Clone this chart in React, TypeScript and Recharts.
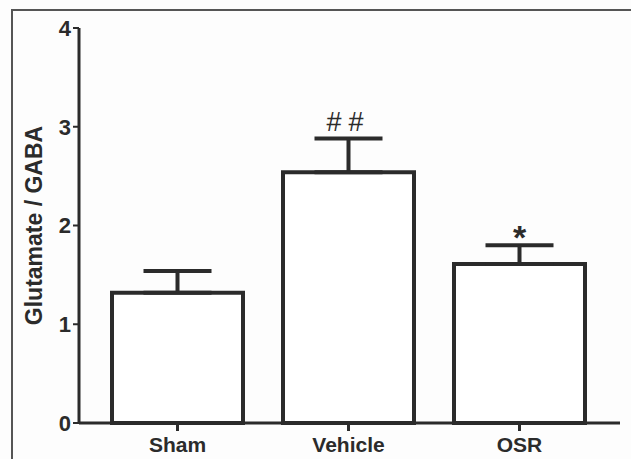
import { BarChart, Bar, XAxis, YAxis, ErrorBar, ReferenceDot } from "recharts"

const groups = ["Sham", "Vehicle", "OSR"]
const means = [1.32, 2.54, 1.61]
const sems = [0.22, 0.34, 0.19]
const marks = ["", "##", "*"]
const yTicks = [0, 1, 2, 3, 4]

const ink = "#2b2b2b"
const font = "'Liberation Sans', Arial, sans-serif"

const data = groups.map((g, i) => ({ group: g, mean: means[i], err: [0, sems[i]] }))

// y-axis title, centred on the axis band
const yLabel = (props: any) => {
  const vb = props.viewBox || { x: 10, y: 28, width: 69, height: 395 }
  const cx = vb.x + 24
  const cy = vb.y + vb.height / 2
  return (
    <text
      x={cx}
      y={cy}
      transform={`rotate(-90 ${cx} ${cy})`}
      textAnchor="middle"
      dominantBaseline="central"
      fill={ink}
      fontSize={23}
      fontWeight={700}
      fontFamily={font}
    >
      Glutamate / GABA
    </text>
  )
}

export default function App() {
  return (
    <div style={{ position: "absolute", left: 0, top: 0, width: 631, height: 459, background: "#fdfdfd", overflow: "hidden" }}>
      <div style={{ position: "absolute", left: 11, top: 9, width: 640, height: 470, borderTop: "2px solid #555", borderLeft: "2px solid #555" }} />
      <BarChart
        width={631}
        height={459}
        data={data}
        margin={{ top: 28, right: 11, bottom: 0, left: 10 }}
        barSize={131}
        style={{ position: "absolute", left: 0, top: 0 }}
      >
        <XAxis
          dataKey="group"
          padding={{ left: 13, right: 15 }}
          axisLine={{ stroke: ink, strokeWidth: 3 }}
          tickLine={{ stroke: ink, strokeWidth: 3 }}
          tickSize={8}
          tickMargin={6}
          height={36}
          tick={{ fill: ink, fontSize: 21, fontWeight: 700, fontFamily: font }}
        />
        <YAxis
          domain={[0, 4]}
          ticks={yTicks}
          width={69}
          axisLine={{ stroke: ink, strokeWidth: 3 }}
          tickLine={{ stroke: ink, strokeWidth: 2 }}
          tickSize={6}
          tickMargin={2}
          tick={{ fill: ink, fontSize: 22, fontWeight: 700, fontFamily: font }}
          label={yLabel}
        />
        <Bar dataKey="mean" fill="#fff" stroke={ink} strokeWidth={4} isAnimationActive={false}>
          <ErrorBar dataKey="err" width={34} stroke={ink} strokeWidth={4} isAnimationActive={false} />
        </Bar>
        {groups.map((g, i) =>
          marks[i] ? (
            <ReferenceDot
              key={g}
              x={g}
              y={means[i] + sems[i]}
              r={0}
              stroke="none"
              label={{
                value: marks[i],
                position: "top",
                offset: marks[i] === "*" ? -4 : 8,
                style: {
                  fill: ink,
                  fontSize: marks[i] === "*" ? 34 : 27,
                  fontWeight: marks[i] === "*" ? 700 : 400,
                  letterSpacing: marks[i] === "*" ? 0 : 7,
                  fontFamily: font,
                },
              }}
            />
          ) : null
        )}
      </BarChart>
    </div>
  )
}
